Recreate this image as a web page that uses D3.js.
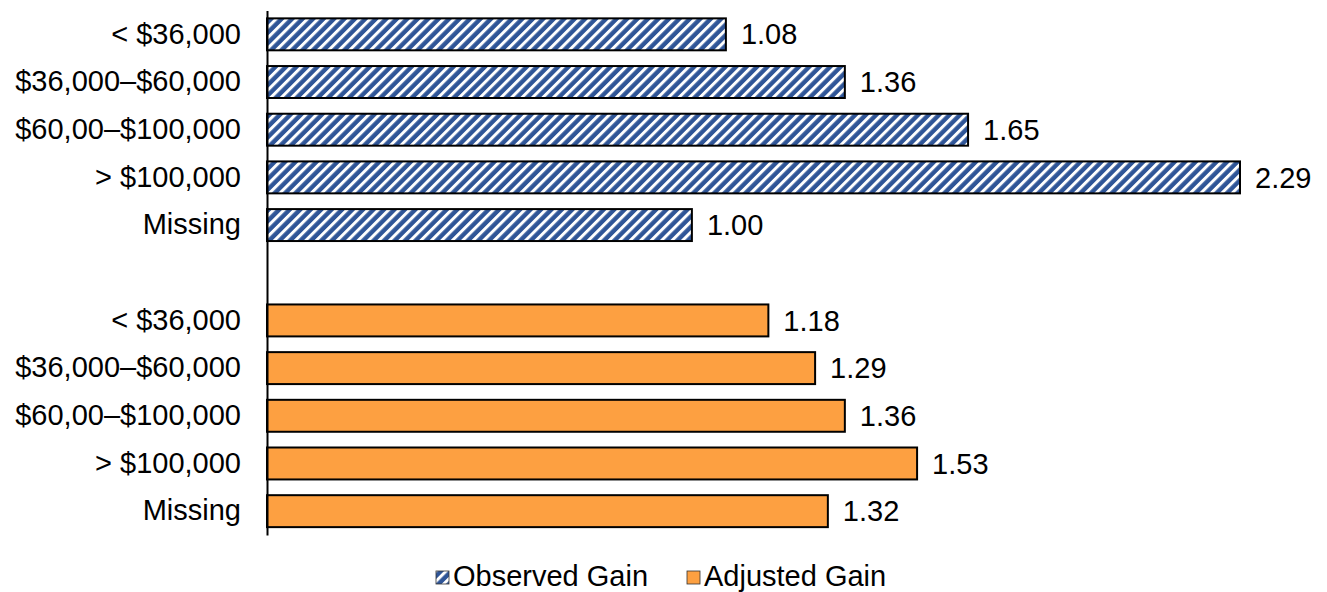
<!DOCTYPE html>
<html>
<head>
<meta charset="utf-8">
<script src="https://cdn.jsdelivr.net/npm/d3@7"></script>
<style>
  html, body { margin: 0; padding: 0; background: #fff; }
  svg { display: block; }
  text { font-family: "Liberation Sans", Arial, sans-serif; fill: #000; }
</style>
</head>
<body>
<svg id="chart" width="1327" height="592"></svg>
<script>
// ---- data ----
const categories = ["< $36,000", "$36,000\u2013$60,000", "$60,00\u2013$100,000", "> $100,000", "Missing"];
const observedGain = [1.08, 1.36, 1.65, 2.29, 1.00];
const adjustedGain = [1.18, 1.29, 1.36, 1.53, 1.32];
const seriesNames = ["Observed Gain", "Adjusted Gain"];

// ---- build rows ----
const rows = [];
categories.forEach((c, i) => rows.push({ key: "o" + i, label: c, value: observedGain[i], series: 0 }));
rows.push({ key: "gap", label: "", value: null, series: -1 });
categories.forEach((c, i) => rows.push({ key: "a" + i, label: c, value: adjustedGain[i], series: 1 }));

const svg = d3.select("#chart");
const axisX = 267;
const fontSize = 29;

const defs = svg.append("defs");
const pat = defs.append("pattern")
  .attr("id", "hatch")
  .attr("patternUnits", "userSpaceOnUse")
  .attr("width", 7.4).attr("height", 7.4)
  .attr("patternTransform", "rotate(45)");
pat.append("rect").attr("width", 7.4).attr("height", 7.4).attr("fill", "#2f5597");
pat.append("rect").attr("x", 0).attr("width", 3.0).attr("height", 7.4).attr("fill", "#ffffff");

const fills = ["url(#hatch)", "#fda041"];

const x = d3.scaleLinear().domain([0, 2.29]).range([axisX, 1240]);
const y = d3.scaleBand().domain(rows.map(r => r.key)).range([10.5, 535]).paddingInner(0.33).paddingOuter(0.165);

// bars
svg.append("g").selectAll("rect")
  .data(rows.filter(r => r.value != null))
  .join("rect")
  .attr("x", x(0))
  .attr("y", d => y(d.key))
  .attr("width", d => x(d.value) - x(0))
  .attr("height", y.bandwidth())
  .attr("fill", d => fills[d.series])
  .attr("stroke", "#000")
  .attr("stroke-width", 2);

// value labels
svg.append("g").selectAll("text")
  .data(rows.filter(r => r.value != null))
  .join("text")
  .attr("x", d => x(d.value) + 15)
  .attr("y", d => y(d.key) + y.bandwidth() / 2)
  .attr("dy", "0.35em")
  .style("font-size", fontSize + "px")
  .text(d => d.value.toFixed(2));

// axis
const yAxis = d3.axisLeft(y)
  .tickSize(0)
  .tickSizeOuter(0)
  .tickPadding(26)
  .tickFormat(k => rows.find(r => r.key === k).label);
const ag = svg.append("g").attr("transform", `translate(${axisX},0)`).call(yAxis);
ag.select(".domain").attr("stroke", "#000").attr("stroke-width", 2);
ag.selectAll("text").style("font-size", fontSize + "px").attr("font-family", null);

// legend
const legendItems = [
  { name: seriesNames[0], fill: fills[0], x: 436 },
  { name: seriesNames[1], fill: fills[1], x: 687 }
];
const lg = svg.append("g");
legendItems.forEach(it => {
  lg.append("rect")
    .attr("x", it.x).attr("y", 571)
    .attr("width", 13).attr("height", 13)
    .attr("fill", it.fill)
    .attr("stroke", "#333").attr("stroke-width", 0.8);
  lg.append("text")
    .attr("x", it.x + 17).attr("y", 576)
    .attr("dy", "0.35em")
    .style("font-size", fontSize + "px")
    .text(it.name);
});
</script>
</body>
</html>
